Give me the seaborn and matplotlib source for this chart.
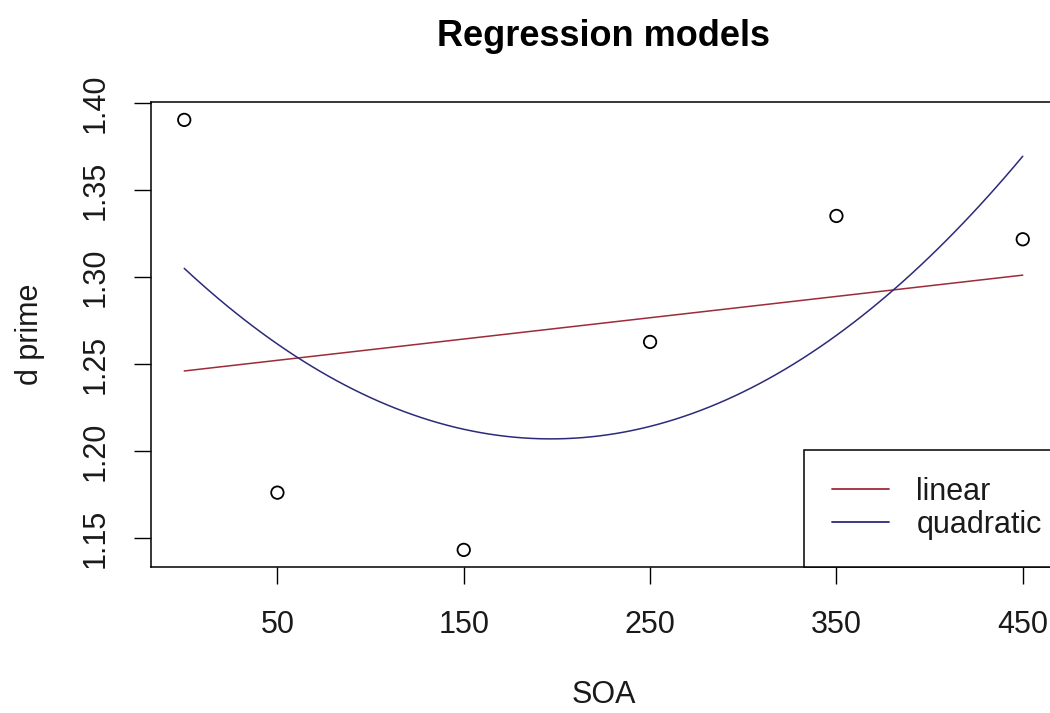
import matplotlib
matplotlib.use("Agg")
import matplotlib.pyplot as plt
import seaborn as sns
import pandas as pd

# Data
soa = [0, 50, 150, 250, 350, 450]
d_prime = [1.3904, 1.1762, 1.1433, 1.2628, 1.3352, 1.3218]
x_ticks = [50, 150, 250, 350, 450]
y_ticks = [1.15, 1.20, 1.25, 1.30, 1.35, 1.40]
y_tick_labels = ["1.15", "1.20", "1.25", "1.30", "1.35", "1.40"]
model_labels = ["linear", "quadratic"]
model_orders = [1, 2]
model_colors = ["#9E2B3A", "#2B2B7A"]

df = pd.DataFrame({"SOA": soa, "d prime": d_prime})

sns.set_theme(style="white")
plt.rcParams["font.family"] = ["Liberation Sans", "DejaVu Sans"]

fig = plt.figure(figsize=(10.5, 7.13), dpi=100)
ax = fig.add_axes([150.7 / 1050, (713 - 567.3) / 713, (1056.3 - 150.7) / 1050, (567.3 - 101.8) / 713])

sns.scatterplot(data=df, x="SOA", y="d prime", ax=ax, marker="o", s=80,
                facecolors="none", edgecolor="black", linewidth=1.3, zorder=3)

for lab, order, col in zip(model_labels, model_orders, model_colors):
    sns.regplot(data=df, x="SOA", y="d prime", order=order, ci=None, scatter=False,
                truncate=True, ax=ax, label=lab,
                line_kws={"color": col, "linewidth": 1.1})

ax.set_xlim(-18, 468)
ax.set_ylim(1.1333, 1.4008)
ax.set_xticks(x_ticks)
ax.set_xticklabels([str(v) for v in x_ticks])
ax.set_yticks(y_ticks)
ax.set_yticklabels(y_tick_labels, rotation=90, va="center")

for name, sp in ax.spines.items():
    sp.set_visible(name != "right")
    sp.set_color("black")
    sp.set_linewidth(1.1)

ax.tick_params(axis="x", which="major", direction="out", length=12.5, width=1.0,
               color="black", labelsize=22, pad=18, labelcolor="#1a1a1a", bottom=True)
ax.tick_params(axis="y", which="major", direction="out", length=12.5, width=1.0,
               color="black", labelsize=22, pad=16, labelcolor="#1a1a1a", left=True)

ax.set_xlabel("SOA", fontsize=22, labelpad=29, color="#1a1a1a")
ax.set_ylabel("d prime", fontsize=22, labelpad=26, color="#1a1a1a")
ax.set_title("Regression models", fontsize=26, fontweight="bold", pad=40, color="#000000")
ax.grid(False)

leg = ax.legend(loc="lower left", bbox_to_anchor=((804.5 - 150.7) / 905.6, 0.0),
                borderaxespad=0.0, fontsize=22, frameon=True, fancybox=False,
                edgecolor="black", framealpha=1.0, handlelength=1.87,
                handletextpad=0.89, labelspacing=0.09, borderpad=0.9)
leg.get_frame().set_linewidth(1.1)
for line in leg.get_lines():
    line.set_linewidth(1.3)
for t in leg.get_texts():
    t.set_color("#1a1a1a")

fig.savefig("out.png", dpi=100)
